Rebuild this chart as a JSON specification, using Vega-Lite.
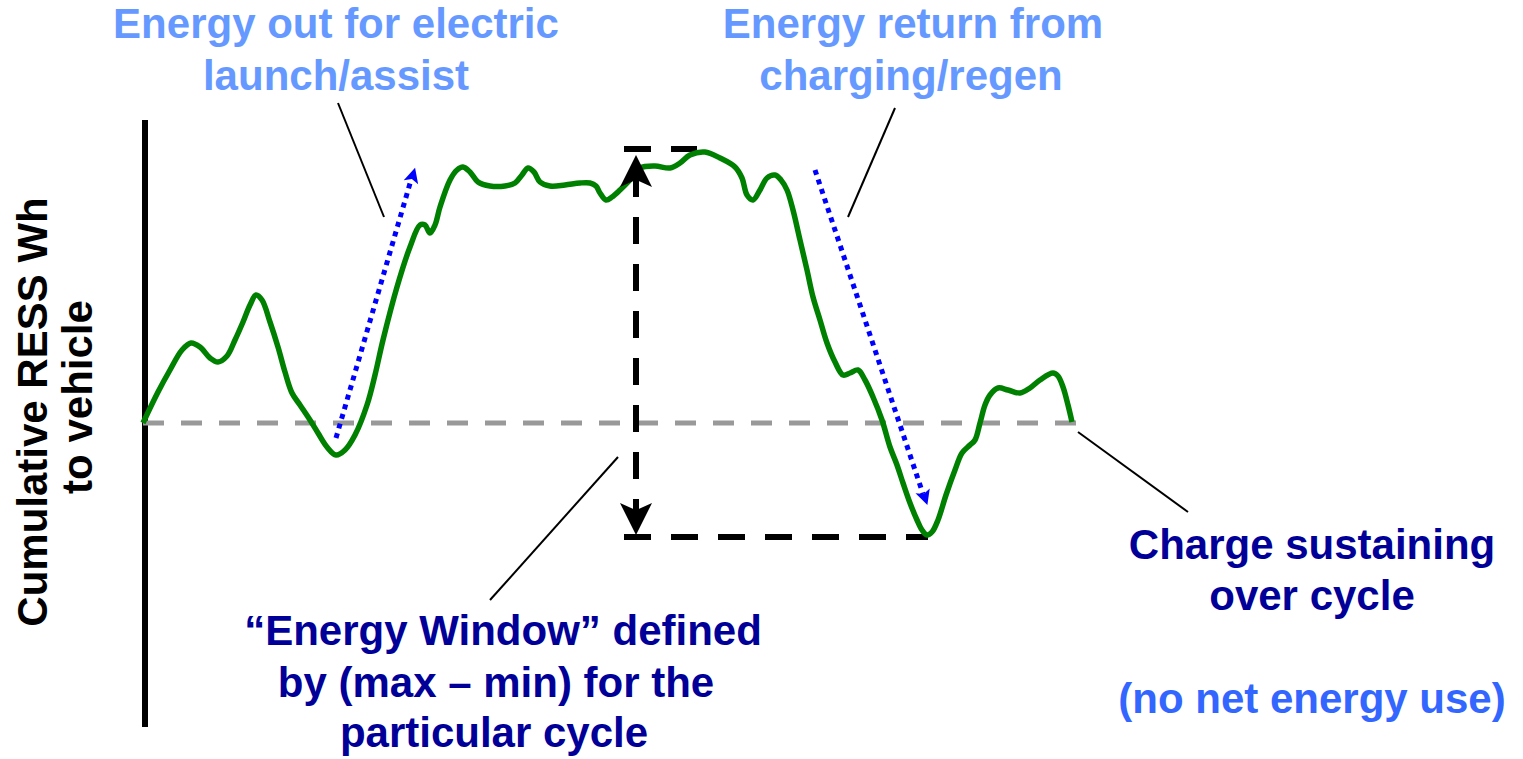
{
  "$schema": "https://vega.github.io/schema/vega-lite/v6.json",
  "autosize": {"type": "fit", "contains": "padding"},
  "width": 1523,
  "height": 759,
  "padding": 0,
  "background": "white",
  "config": {"view": {"stroke": null}},
  "datasets": {
    "curve": [
      {"t":143,"wh":423},{"t":158,"wh":392},{"t":170,"wh":370},{"t":182,"wh":350},{"t":191,"wh":343},{"t":200,"wh":347},
      {"t":210,"wh":358},{"t":218,"wh":362},{"t":227,"wh":356},{"t":235,"wh":340},{"t":243,"wh":322},{"t":250,"wh":305},
      {"t":256,"wh":295},{"t":262,"wh":300},{"t":270,"wh":322},{"t":278,"wh":347},{"t":285,"wh":372},{"t":292,"wh":393},
      {"t":300,"wh":405},{"t":310,"wh":420},{"t":318,"wh":433},{"t":327,"wh":447},{"t":336,"wh":455},{"t":345,"wh":450},
      {"t":355,"wh":435},{"t":367,"wh":405},{"t":375,"wh":375},{"t":383,"wh":340},{"t":397,"wh":287},{"t":410,"wh":247},
      {"t":420,"wh":225},{"t":425,"wh":225},{"t":430,"wh":233},{"t":435,"wh":225},{"t":440,"wh":207},{"t":450,"wh":180},
      {"t":457,"wh":170},{"t":463,"wh":167},{"t":470,"wh":172},{"t":478,"wh":182},{"t":490,"wh":186},{"t":505,"wh":186},
      {"t":515,"wh":183},{"t":522,"wh":175},{"t":528,"wh":168},{"t":534,"wh":172},{"t":540,"wh":182},{"t":550,"wh":186},
      {"t":565,"wh":185},{"t":580,"wh":183},{"t":590,"wh":183},{"t":596,"wh":186},{"t":600,"wh":193},{"t":606,"wh":200},
      {"t":612,"wh":197},{"t":620,"wh":190},{"t":630,"wh":180},{"t":640,"wh":168},{"t":655,"wh":166},{"t":670,"wh":168},
      {"t":680,"wh":163},{"t":690,"wh":155},{"t":705,"wh":152},{"t":720,"wh":158},{"t":735,"wh":167},{"t":742,"wh":178},
      {"t":747,"wh":195},{"t":753,"wh":200},{"t":760,"wh":190},{"t":767,"wh":178},{"t":775,"wh":175},{"t":781,"wh":180},
      {"t":787,"wh":190},{"t":793,"wh":210},{"t":800,"wh":240},{"t":807,"wh":270},{"t":813,"wh":297},{"t":820,"wh":320},
      {"t":827,"wh":343},{"t":835,"wh":362},{"t":843,"wh":375},{"t":850,"wh":373},{"t":858,"wh":370},{"t":865,"wh":380},
      {"t":873,"wh":397},{"t":882,"wh":420},{"t":890,"wh":447},{"t":897,"wh":465},{"t":903,"wh":483},{"t":910,"wh":503},
      {"t":917,"wh":520},{"t":922,"wh":530},{"t":927,"wh":535},{"t":932,"wh":532},{"t":938,"wh":520},{"t":946,"wh":495},
      {"t":955,"wh":470},{"t":962,"wh":453},{"t":970,"wh":445},{"t":975,"wh":440},{"t":980,"wh":423},{"t":985,"wh":405},
      {"t":990,"wh":395},{"t":998,"wh":388},{"t":1008,"wh":390},{"t":1020,"wh":393},{"t":1030,"wh":388},{"t":1040,"wh":380},
      {"t":1053,"wh":373},{"t":1058,"wh":376},{"t":1063,"wh":387},{"t":1068,"wh":405},{"t":1072,"wh":422}
    ],
    "segments": [
      {"seg":"axis","kind":"axis","i":0,"x":145,"y":120},
      {"seg":"axis","kind":"axis","i":1,"x":145,"y":727},
      {"seg":"zero","kind":"zero","i":0,"x":143,"y":423},
      {"seg":"zero","kind":"zero","i":1,"x":1088,"y":423},
      {"seg":"wtop","kind":"window","i":0,"x":624,"y":149},
      {"seg":"wtop","kind":"window","i":1,"x":697,"y":149},
      {"seg":"wbot","kind":"window","i":0,"x":624,"y":537},
      {"seg":"wbot","kind":"window","i":1,"x":928,"y":537},
      {"seg":"wvert","kind":"window","i":0,"x":636,"y":170},
      {"seg":"wvert","kind":"window","i":1,"x":636,"y":526},
      {"seg":"out","kind":"flow","i":0,"x":336,"y":438},
      {"seg":"out","kind":"flow","i":1,"x":411,"y":180},
      {"seg":"ret","kind":"flow","i":0,"x":815,"y":170},
      {"seg":"ret","kind":"flow","i":1,"x":923,"y":494},
      {"seg":"l1","kind":"leader","i":0,"x":338,"y":103},
      {"seg":"l1","kind":"leader","i":1,"x":384,"y":217},
      {"seg":"l2","kind":"leader","i":0,"x":895,"y":108},
      {"seg":"l2","kind":"leader","i":1,"x":848,"y":217},
      {"seg":"l3","kind":"leader","i":0,"x":618,"y":457},
      {"seg":"l3","kind":"leader","i":1,"x":490,"y":600},
      {"seg":"l4","kind":"leader","i":0,"x":1078,"y":432},
      {"seg":"l4","kind":"leader","i":1,"x":1188,"y":512}
    ],
    "heads": [
      {"kind":"window","x":636,"y":171,"dir":0},
      {"kind":"window","x":636,"y":519,"dir":180},
      {"kind":"flow","x":413,"y":175,"dir":16},
      {"kind":"flow","x":925,"y":498,"dir":161.5}
    ],
    "labels": [
      {"role":"callout","line":"Energy out for electric","x":336,"y":38},
      {"role":"callout","line":"launch/assist","x":336,"y":90},
      {"role":"callout","line":"Energy return from","x":913,"y":38},
      {"role":"callout","line":"charging/regen","x":911,"y":90},
      {"role":"window","line":"“Energy Window” defined","x":503,"y":645},
      {"role":"window","line":"by (max – min) for the","x":496,"y":697},
      {"role":"window","line":"particular cycle","x":494,"y":747},
      {"role":"sustain","line":"Charge sustaining","x":1312,"y":559},
      {"role":"sustain","line":"over cycle","x":1312,"y":610},
      {"role":"note","line":"(no net energy use)","x":1312,"y":713},
      {"role":"axis","line":"Cumulative RESS Wh","x":47,"y":412},
      {"role":"axis","line":"to vehicle","x":92,"y":397}
    ]
  },
  "layer": [
    {
      "data": {"name": "segments"},
      "transform": [{"filter": "datum.kind === 'axis'"}],
      "mark": {"type": "line", "color": "black", "strokeWidth": 6, "strokeCap": "butt"},
      "encoding": {
        "x": {"field": "x", "type": "quantitative", "scale": {"domain": [0, 1523], "nice": false, "zero": false}, "axis": null},
        "y": {"field": "y", "type": "quantitative", "scale": {"domain": [0, 759], "nice": false, "zero": false, "reverse": true}, "axis": null},
        "detail": {"field": "seg"},
        "order": {"field": "i"}
      }
    },
    {
      "data": {"name": "segments"},
      "transform": [{"filter": "datum.kind === 'zero'"}],
      "mark": {"type": "line", "color": "#999999", "strokeWidth": 5, "strokeDash": [21, 17], "strokeCap": "butt"},
      "encoding": {
        "x": {"field": "x", "type": "quantitative"},
        "y": {"field": "y", "type": "quantitative"},
        "detail": {"field": "seg"},
        "order": {"field": "i"}
      }
    },
    {
      "data": {"name": "segments"},
      "transform": [{"filter": "datum.kind === 'window'"}],
      "mark": {"type": "line", "color": "black", "strokeWidth": 6, "strokeDash": [27, 20], "strokeCap": "butt"},
      "encoding": {
        "x": {"field": "x", "type": "quantitative"},
        "y": {"field": "y", "type": "quantitative"},
        "detail": {"field": "seg"},
        "order": {"field": "i"}
      }
    },
    {
      "data": {"name": "segments"},
      "transform": [{"filter": "datum.kind === 'flow'"}],
      "mark": {"type": "line", "color": "#0000ff", "strokeWidth": 5, "strokeDash": [5, 5], "strokeCap": "butt"},
      "encoding": {
        "x": {"field": "x", "type": "quantitative"},
        "y": {"field": "y", "type": "quantitative"},
        "detail": {"field": "seg"},
        "order": {"field": "i"}
      }
    },
    {
      "data": {"name": "segments"},
      "transform": [{"filter": "datum.kind === 'leader'"}],
      "mark": {"type": "line", "color": "black", "strokeWidth": 2},
      "encoding": {
        "x": {"field": "x", "type": "quantitative"},
        "y": {"field": "y", "type": "quantitative"},
        "detail": {"field": "seg"},
        "order": {"field": "i"}
      }
    },
    {
      "data": {"name": "curve"},
      "mark": {"type": "line", "color": "#008000", "strokeWidth": 5.5, "interpolate": "catmull-rom"},
      "encoding": {
        "x": {"field": "t", "type": "quantitative"},
        "y": {"field": "wh", "type": "quantitative"}
      }
    },
    {
      "data": {"name": "heads"},
      "transform": [{"filter": "datum.kind === 'window'"}],
      "mark": {"type": "point", "shape": "M0,-1L1,1L0,0.55L-1,1Z", "size": 1024, "filled": true, "color": "black", "opacity": 1, "strokeWidth": 0},
      "encoding": {
        "x": {"field": "x", "type": "quantitative"},
        "y": {"field": "y", "type": "quantitative"},
        "angle": {"field": "dir", "type": "quantitative", "scale": null}
      }
    },
    {
      "data": {"name": "heads"},
      "transform": [{"filter": "datum.kind === 'flow'"}],
      "mark": {"type": "point", "shape": "M0,-1L1,1L0,0.55L-1,1Z", "size": 225, "filled": true, "color": "#0000ff", "opacity": 1, "strokeWidth": 0},
      "encoding": {
        "x": {"field": "x", "type": "quantitative"},
        "y": {"field": "y", "type": "quantitative"},
        "angle": {"field": "dir", "type": "quantitative", "scale": null}
      }
    },
    {
      "data": {"name": "labels"},
      "transform": [{"filter": "datum.role !== 'axis'"}],
      "mark": {"type": "text", "font": "Liberation Sans", "fontWeight": "bold", "fontSize": 42, "align": "center", "baseline": "alphabetic"},
      "encoding": {
        "x": {"field": "x", "type": "quantitative"},
        "y": {"field": "y", "type": "quantitative"},
        "text": {"field": "line"},
        "color": {"field": "role", "type": "nominal", "scale": {"domain": ["callout", "window", "sustain", "note"], "range": ["#6699ff", "#000099", "#000099", "#3366ff"]}, "legend": null}
      }
    },
    {
      "data": {"name": "labels"},
      "transform": [{"filter": "datum.role === 'axis'"}],
      "mark": {"type": "text", "font": "Liberation Sans", "fontWeight": "bold", "fontSize": 42, "align": "center", "baseline": "alphabetic", "angle": 270, "color": "black"},
      "encoding": {
        "x": {"field": "x", "type": "quantitative"},
        "y": {"field": "y", "type": "quantitative"},
        "text": {"field": "line"}
      }
    }
  ]
}
